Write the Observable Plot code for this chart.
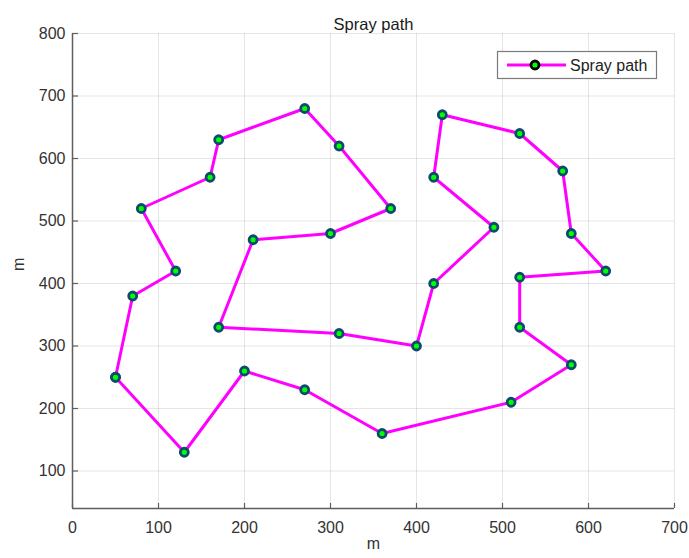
<!DOCTYPE html>
<html>
<head>
<meta charset="utf-8">
<script src="https://cdn.jsdelivr.net/npm/d3@7"></script>
<script src="https://cdn.jsdelivr.net/npm/@observablehq/plot@0.6"></script>
<style>
  html, body { margin: 0; padding: 0; background: #fff; }
  #chart { width: 689px; height: 558px; }
</style>
</head>
<body>
<div id="chart"></div>
<script>
const title = "Spray path";
const xLabel = "m";
const yLabel = "m";
const seriesName = "Spray path";
const pathX = [50, 70, 120, 80, 160, 170, 270, 310, 370, 300, 210, 170, 310, 400, 420, 490, 420, 430, 520, 570, 580, 620, 520, 520, 580, 510, 360, 270, 200, 130, 50];
const pathY = [250, 380, 420, 520, 570, 630, 680, 620, 520, 480, 470, 330, 320, 300, 400, 490, 570, 670, 640, 580, 480, 420, 410, 330, 270, 210, 160, 230, 260, 130, 250];
const xTicks = [0, 100, 200, 300, 400, 500, 600, 700];
const yTicks = [100, 200, 300, 400, 500, 600, 700, 800];

const pts = pathX.map((x, i) => ({x, y: pathY[i]}));
const font = "'Liberation Sans', Arial, sans-serif";
const axisColor = "#5e5e5e";
const yMin = 40;

const plot = Plot.plot({
  width: 689,
  height: 558,
  marginLeft: 72,
  marginRight: 15,
  marginTop: 33,
  marginBottom: 50,
  style: {fontFamily: font, fontSize: "16px", background: "#fff", color: "#333"},
  x: {domain: [0, 700], ticks: xTicks, label: null},
  y: {domain: [yMin, 800], ticks: yTicks, label: null},
  marks: [
    Plot.gridX(xTicks, {stroke: "#000", strokeOpacity: 0.1, strokeWidth: 1}),
    Plot.gridY(yTicks, {stroke: "#000", strokeOpacity: 0.1, strokeWidth: 1}),
    Plot.ruleX(xTicks, {x: d => d, y1: yMin, y2: yMin + 8, stroke: axisColor, strokeWidth: 1.2}),
    Plot.ruleY(yTicks, {y: d => d, x1: 0, x2: 7, stroke: axisColor, strokeWidth: 1.2}),
    Plot.ruleX([0], {stroke: axisColor, strokeWidth: 1.5}),
    Plot.ruleY([yMin], {stroke: axisColor, strokeWidth: 1.5}),
    Plot.axisX(xTicks, {tickSize: 0, tickPadding: 13, fontSize: 16, fill: "#333"}),
    Plot.axisY(yTicks, {tickSize: 0, tickPadding: 7, fontSize: 16, fill: "#333"}),
    Plot.line(pts, {x: "x", y: "y", stroke: "#ff00ff", strokeWidth: 3}),
    Plot.dot(pts, {x: "x", y: "y", r: 4, fill: "#00ff00", stroke: "#0d4a6e", strokeWidth: 2.8, symbol: "circle"}),
    Plot.text([title], {frameAnchor: "top", dy: -15, fontSize: 16.5, fill: "#1a1a1a"}),
    Plot.text([xLabel], {frameAnchor: "bottom", dy: 40, fontSize: 16, fill: "#333"}),
    Plot.text([yLabel], {frameAnchor: "left", dx: -54, rotate: -90, fontSize: 16, fill: "#333"})
  ]
});
document.getElementById("chart").appendChild(plot);

// legend
const svg = d3.select(plot);
const lg = svg.append("g").attr("font-family", font).attr("text-anchor", "start");
lg.append("rect").attr("x", 497.5).attr("y", 51.5).attr("width", 159).attr("height", 27)
  .attr("fill", "#fff").attr("stroke", "#7a7a7a").attr("stroke-width", 1.2);
lg.append("line").attr("x1", 507).attr("x2", 566).attr("y1", 65).attr("y2", 65)
  .attr("stroke", "#ff00ff").attr("stroke-width", 3);
lg.append("circle").attr("cx", 535).attr("cy", 65).attr("r", 4)
  .attr("fill", "#00ff00").attr("stroke", "#000").attr("stroke-width", 2.8);
lg.append("text").attr("x", 570).attr("y", 70.5).attr("font-size", 16).attr("fill", "#222")
  .attr("text-anchor", "start").text(seriesName);
</script>
</body>
</html>
